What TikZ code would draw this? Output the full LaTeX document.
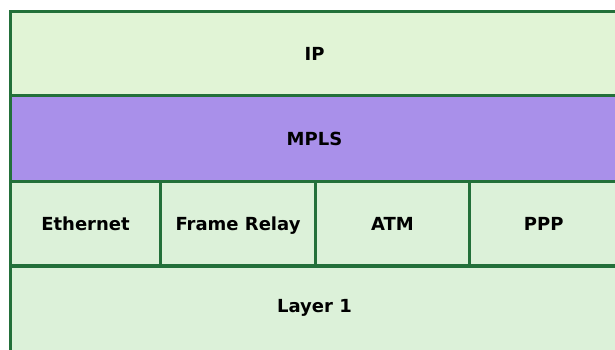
\documentclass[tikz,border=0pt]{standalone}
\usepackage{fontspec}
\setmainfont{DejaVu Sans}
\usetikzlibrary{positioning}
\definecolor{layergreen}{HTML}{DCF1D9}
\definecolor{ipgreen}{HTML}{E1F4D6}
\definecolor{mplspurple}{HTML}{A990EA}
\definecolor{linegreen}{HTML}{23703A}

\begin{document}
\begin{tikzpicture}[x=1pt,y=-1pt,node distance=0pt,
  layer/.style={draw=linegreen, line width=3.6pt, fill=layergreen, inner sep=0pt, outer sep=0pt,
    minimum height=85pt, text height=13pt, text depth=0pt,
    font=\bfseries\fontsize{18}{21}\selectfont}]
\useasboundingbox (0,0) rectangle (615,349);
\clip (0,0) rectangle (615,349);
% protocol stack
\node[layer, fill=ipgreen, minimum width=608pt, minimum height=84pt, anchor=north west] (ip) at (10.5,11.5) {IP};
\node[layer, fill=mplspurple, minimum width=608pt, minimum height=86pt, below=of ip] (mpls) {MPLS};
\node[layer, minimum width=150pt, minimum height=84.5pt, anchor=north west] (eth) at (mpls.south west) {Ethernet};
\node[layer, minimum width=155pt, minimum height=84.5pt, right=of eth] (fr) {Frame Relay};
\node[layer, minimum width=154pt, minimum height=84.5pt, right=of fr] (atm) {ATM};
\node[layer, minimum width=148.5pt, minimum height=84.5pt, right=of atm] (ppp) {PPP};
\node[layer, minimum width=608pt, minimum height=92pt, text depth=12pt, anchor=north west] (phy) at (eth.south west) {Layer 1};
\end{tikzpicture}
\end{document}
